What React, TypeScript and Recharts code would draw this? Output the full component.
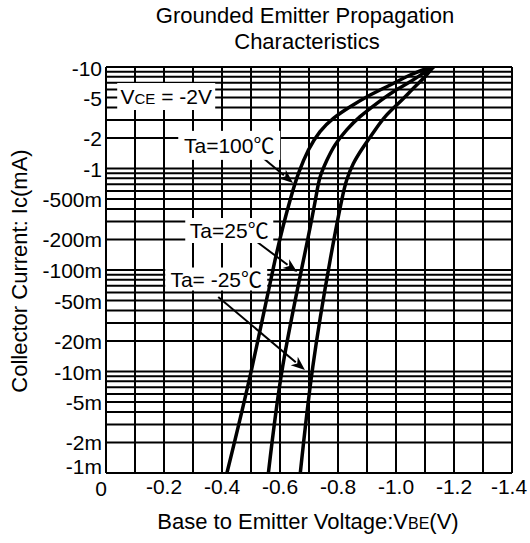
import React from 'react';
import { LineChart, Line, XAxis, YAxis, CartesianGrid, ReferenceLine, ReferenceDot } from 'recharts';

const FONT = "'Liberation Sans', Arial, Helvetica, 'Noto Sans CJK JP', sans-serif";

// Base-emitter voltage V_BE (V) and collector current magnitude |Ic| (A)
const ta100V = [-0.417, -0.503, -0.583, -0.635, -0.664, -0.698, -0.738, -0.784, -0.842, -0.911, -0.98, -1.049, -1.12];
const ta100I = [0.001, 0.0108, 0.1255, 0.49, 0.9, 1.52, 2.31, 3.12, 4.06, 5.3, 6.65, 8.34, 10];
const ta25V = [-0.56, -0.609, -0.681, -0.722, -0.738, -0.762, -0.79, -0.83, -0.876, -0.934, -0.991, -1.049, -1.094, -1.129];
const ta25I = [0.001, 0.0111, 0.1256, 0.49, 0.82, 1.21, 1.71, 2.4, 3.24, 4.39, 5.71, 7.17, 8.67, 10];
const taM25V = [-0.67, -0.713, -0.773, -0.813, -0.83, -0.853, -0.888, -0.928, -0.968, -1.014, -1.06, -1.1, -1.129];
const taM25I = [0.001, 0.0111, 0.1256, 0.49, 0.77, 1.12, 1.64, 2.4, 3.37, 4.55, 6.17, 8.02, 10];

// Axis ticks
const xGridTicks = [0, -0.1, -0.2, -0.3, -0.4, -0.5, -0.6, -0.7, -0.8, -0.9, -1.0, -1.1, -1.2, -1.3, -1.4];
const xTickLabels = ['0', '', '-0.2', '', '-0.4', '', '-0.6', '', '-0.8', '', '-1.0', '', '-1.2', '', '-1.4'];

const yGridTicks = [
  0.001, 0.002, 0.003, 0.004, 0.005, 0.006, 0.007, 0.008, 0.009,
  0.01, 0.02, 0.03, 0.04, 0.05, 0.06, 0.07, 0.08, 0.09,
  0.1, 0.2, 0.3, 0.4, 0.5, 0.6, 0.7, 0.8, 0.9,
  1, 2, 3, 4, 5, 6, 7, 8, 9, 10,
];
const yLabelValues = [10, 5, 2, 1, 0.5, 0.2, 0.1, 0.05, 0.02, 0.01, 0.005, 0.002, 0.001];
const yLabelTexts = ['-10', '-5', '-2', '-1', '-500m', '-200m', '-100m', '-50m', '-20m', '-10m', '-5m', '-2m', '-1m'];

// Annotations
const seriesNames = ['Ta=100℃', 'Ta=25℃', 'Ta= -25℃'];
const labelV = [-0.425, -0.425, -0.38];
const labelI = [1.69, 0.245, 0.0815];
const arrowFromV = [-0.521, -0.52, -0.387];
const arrowFromI = [1.42, 0.19, 0.0542];
const arrowToV = [-0.645, -0.659, -0.686];
const arrowToI = [0.72, 0.0955, 0.01035];
const vceV = -0.2076;
const vceI = 5.12;

const zip = (v: number[], i: number[]) => v.map((x, k) => ({ v: x, i: i[k] }));
const curves = [zip(ta100V, ta100I), zip(ta25V, ta25I), zip(taM25V, taM25I)];

const boxW = [102, 88, 102];
const boxH = [29, 25, 23];

const YTick = (props: any) => {
  const { x, y, payload } = props;
  const idx = yLabelValues.findIndex((v) => Math.abs(v - payload.value) < v * 1e-6);
  if (idx < 0) return <g />;
  const dy = idx === yLabelValues.length - 1 ? 1 : idx === 0 ? 9 : 8;
  return (
    <text x={x} y={y} dy={dy} textAnchor="end" fontFamily={FONT} fontSize={21} fill="#000">
      {yLabelTexts[idx]}
    </text>
  );
};

const XTick = (props: any) => {
  const { x, y, payload } = props;
  const idx = xGridTicks.findIndex((v) => Math.abs(v - payload.value) < 1e-6);
  const text = idx >= 0 ? xTickLabels[idx] : '';
  if (!text) return <g />;
  const dx = idx === 0 ? -5 : idx === xGridTicks.length - 1 ? -3 : 0;
  const dy = idx === 0 ? 23 : 21;
  return (
    <text x={x + dx} y={y} dy={dy} textAnchor="middle" fontFamily={FONT} fontSize={21} fill="#000">
      {text}
    </text>
  );
};

const makeBox = (text: string, w: number, h: number) => (p: any) => (
  <g>
    <rect x={p.cx - w / 2} y={p.cy - h / 2} width={w} height={h} fill="#fff" />
    <text x={p.cx} y={p.cy} dy={7.5} textAnchor="middle" fontFamily={FONT} fontSize={21} fill="#000">
      {text}
    </text>
  </g>
);

const vceBox = (p: any) => (
  <g>
    <rect x={p.cx - 49} y={p.cy - 13.5} width={98} height={27} fill="#fff" />
    <text x={p.cx} y={p.cy} dy={7} textAnchor="middle" fontFamily={FONT} fontSize={21} fill="#000">
      V<tspan fontSize={15}>CE</tspan> = -2V
    </text>
  </g>
);

const arrowShape = (p: any) => {
  const { x1, y1, x2, y2 } = p;
  const dx = x2 - x1;
  const dy = y2 - y1;
  const len = Math.hypot(dx, dy) || 1;
  const ux = dx / len;
  const uy = dy / len;
  const L = 14;
  const W = 5.5;
  const bx = x2 - ux * L;
  const by = y2 - uy * L;
  return (
    <g>
      <line x1={x1} y1={y1} x2={bx + ux * 2} y2={by + uy * 2} stroke="#000" strokeWidth={2} />
      <polygon
        points={`${x2},${y2} ${bx - uy * W},${by + ux * W} ${bx + ux * 4},${by + uy * 4} ${bx + uy * W},${by - ux * W}`}
        fill="#000"
      />
    </g>
  );
};

export default function App() {
  return (
    <div style={{ position: 'absolute', left: 0, top: 0, width: 530, height: 543, background: '#fff' }}>
      <LineChart width={530} height={543} margin={{ top: 67, right: 18, bottom: 0, left: 0 }}>
        <CartesianGrid stroke="#000" strokeWidth={2} />
        <XAxis
          type="number"
          dataKey="v"
          domain={[-1.4, 0]}
          reversed
          allowDataOverflow
          ticks={xGridTicks}
          interval={0}
          height={70}
          tickLine={false}
          tickSize={0}
          tickMargin={0}
          axisLine={{ stroke: '#000', strokeWidth: 2 }}
          tick={<XTick />}
        />
        <YAxis
          type="number"
          dataKey="i"
          scale="log"
          domain={[0.001, 10]}
          allowDataOverflow
          ticks={yGridTicks}
          interval={0}
          width={106}
          tickLine={false}
          tickSize={0}
          tickMargin={4}
          axisLine={{ stroke: '#000', strokeWidth: 2 }}
          tick={<YTick />}
        />
        {curves.map((d, k) => (
          <Line
            key={seriesNames[k]}
            data={d}
            dataKey="i"
            name={seriesNames[k]}
            type="natural"
            stroke="#000"
            strokeWidth={3.5}
            strokeLinecap="round"
            dot={false}
            isAnimationActive={false}
          />
        ))}
        {seriesNames.map((n, k) => (
          <ReferenceLine
            key={'a' + n}
            segment={[
              { x: arrowFromV[k], y: arrowFromI[k] },
              { x: arrowToV[k], y: arrowToI[k] },
            ]}
            shape={arrowShape}
          />
        ))}
        {seriesNames.map((n, k) => (
          <ReferenceDot key={'l' + n} x={labelV[k]} y={labelI[k]} r={1} shape={makeBox(n, boxW[k], boxH[k])} />
        ))}
        <ReferenceDot x={vceV} y={vceI} r={1} shape={vceBox} />
      </LineChart>
      <svg
        width={530}
        height={543}
        style={{ position: 'absolute', left: 0, top: 0, pointerEvents: 'none' }}
      >
        <text x={305} y={23} textAnchor="middle" fontFamily={FONT} fontSize={22} fill="#000">
          Grounded Emitter Propagation
        </text>
        <text x={307} y={49} textAnchor="middle" fontFamily={FONT} fontSize={22} fill="#000">
          Characteristics
        </text>
        <text
          x={27}
          y={271}
          transform="rotate(-90 27 271)"
          textAnchor="middle"
          fontFamily={FONT}
          fontSize={22}
          fill="#000"
        >
          Collector Current: Ic(mA)
        </text>
        <text x={308} y={529} textAnchor="middle" fontFamily={FONT} fontSize={22} fill="#000">
          Base to Emitter Voltage:V<tspan fontSize={16}>BE</tspan>(V)
        </text>
      </svg>
    </div>
  );
}
